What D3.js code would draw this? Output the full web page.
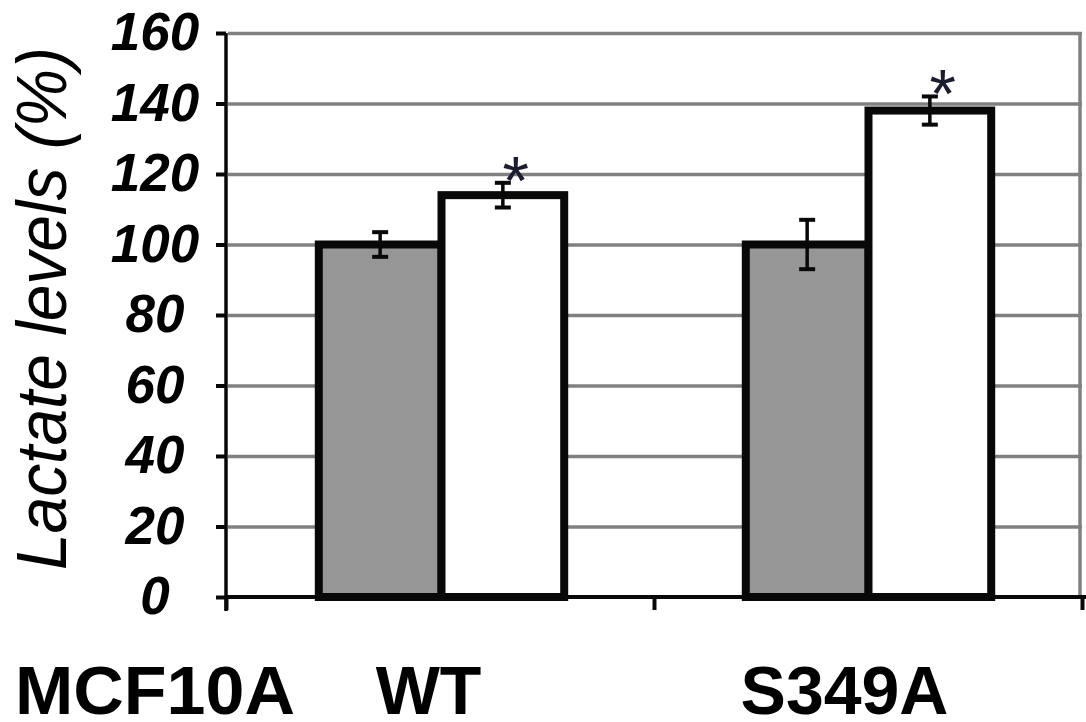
<!DOCTYPE html>
<html><head><meta charset="utf-8">
<script src="https://cdn.jsdelivr.net/npm/d3@7"></script>
<style>html,body{margin:0;padding:0;background:#fff;}svg{display:block;}</style>
</head><body>
<svg id="chart" width="1086" height="722"></svg>
<script>
const categories = ["WT", "S349A"];
const seriesNames = ["control", "treated"];
const controlValues = [100, 100];
const treatedValues = [114, 138];
const controlErrors = [3.5, 7];
const treatedErrors = [3.5, 4];
const treatedSignificant = [true, true];
const yTicks = [0, 20, 40, 60, 80, 100, 120, 140, 160];
const rowLabel = "MCF10A";
const yTitle = "Lactate levels (%)";

const svg = d3.select("#chart");
const plotLeft = 228, plotRight = 1082, plotTop = 33, plotBottom = 597;

const y = d3.scaleLinear().domain([0, 160]).range([plotBottom, plotTop]);
const x0 = d3.scaleBand().domain(categories).range([plotLeft, plotRight]).paddingInner(0).paddingOuter(0);
const x1 = d3.scaleBand().domain(seriesNames).range([0, x0.bandwidth()]).paddingInner(0).paddingOuter(0.74);

const data = categories.map((c, i) => ({
  cat: c,
  bars: [
    {s: "control", v: controlValues[i], e: controlErrors[i], sig: false},
    {s: "treated", v: treatedValues[i], e: treatedErrors[i], sig: treatedSignificant[i]}
  ]
}));

// gridlines
const grid = svg.append("g").attr("transform", `translate(${plotLeft},0)`)
  .call(d3.axisLeft(y).tickValues(yTicks.filter(t => t > 0)).tickSize(-(plotRight - plotLeft)).tickFormat(""));
grid.select(".domain").remove();
grid.selectAll("line").attr("stroke", "#808080").attr("stroke-width", 3.5);

// right border
svg.append("line").attr("x1", plotRight - 2).attr("x2", plotRight - 2).attr("y1", y(160)).attr("y2", y(0))
  .attr("stroke", "#808080").attr("stroke-width", 3.5);

// bars
const groups = svg.selectAll("g.grp").data(data).enter().append("g").attr("class", "grp")
  .attr("transform", d => `translate(${x0(d.cat)},0)`);
groups.selectAll("rect").data(d => d.bars).enter().append("rect")
  .attr("x", d => x1(d.s)).attr("width", x1.bandwidth())
  .attr("y", d => y(d.v)).attr("height", d => y(0) - y(d.v))
  .attr("fill", d => d.s === "control" ? "#969696" : "#ffffff")
  .attr("stroke", "#080808").attr("stroke-width", 8);

// error bars
const eb = groups.selectAll("g.eb").data(d => d.bars).enter().append("g").attr("class", "eb");
eb.append("line")
  .attr("x1", d => x1(d.s) + x1.bandwidth() / 2).attr("x2", d => x1(d.s) + x1.bandwidth() / 2)
  .attr("y1", d => y(d.v + d.e)).attr("y2", d => y(d.v - d.e))
  .attr("stroke", "#080808").attr("stroke-width", 3.5);
eb.selectAll("line.cap").data(d => [{d, val: d.v + d.e}, {d, val: d.v - d.e}]).enter().append("line")
  .attr("class", "cap")
  .attr("x1", c => x1(c.d.s) + x1.bandwidth() / 2 - 8).attr("x2", c => x1(c.d.s) + x1.bandwidth() / 2 + 8)
  .attr("y1", c => y(c.val)).attr("y2", c => y(c.val))
  .attr("stroke", "#080808").attr("stroke-width", 4);

// asterisks
groups.selectAll("text.star").data(d => d.bars.filter(b => b.sig)).enter().append("text")
  .attr("class", "star")
  .attr("x", d => x1(d.s) + x1.bandwidth() / 2 + 13)
  .attr("y", d => y(d.v + d.e) + 21)
  .attr("text-anchor", "middle")
  .attr("font-family", "Liberation Sans, Arial, sans-serif")
  .attr("font-size", 68)
  .attr("fill", "#1c1c30")
  .text("*");

// y axis
const yAxis = svg.append("g").attr("transform", `translate(${plotLeft - 2},0)`)
  .call(d3.axisLeft(y).tickValues(yTicks).tickSize(10).tickPadding(0));
yAxis.select(".domain").attr("stroke", "#080808").attr("stroke-width", 3.5)
  .attr("d", `M0,${y(160)}V${y(0) + 14}`);
yAxis.selectAll(".tick line").attr("stroke", "#080808").attr("stroke-width", 4);
yAxis.selectAll(".tick text")
  .attr("x", -(plotLeft - 2 - 155)).attr("dy", "0.32em")
  .attr("text-anchor", "middle")
  .attr("font-family", "Liberation Sans, Arial, sans-serif")
  .attr("font-size", 53).attr("font-weight", "bold").attr("font-style", "italic")
  .attr("fill", "#000");

// x axis
const xl = d3.scaleLinear().domain([0, categories.length]).range([plotLeft - 2, plotRight]);
const xAxis = svg.append("g").attr("transform", `translate(0,${y(0)})`)
  .call(d3.axisBottom(xl).tickValues(d3.range(categories.length + 1)).tickSize(13).tickFormat(""));
xAxis.select(".domain").attr("stroke", "#080808").attr("stroke-width", 4).attr("d", `M${plotLeft - 2},0H${plotRight + 4}`);
xAxis.selectAll(".tick line").attr("stroke", "#080808").attr("stroke-width", 4);

// bottom labels
const labelFamily = "Liberation Sans, Arial, sans-serif";
svg.append("text").attr("x", 15).attr("y", 714)
  .attr("font-family", labelFamily).attr("font-size", 68).attr("font-weight", "bold")
  .attr("textLength", 280).attr("lengthAdjust", "spacingAndGlyphs")
  .attr("fill", "#000").text(rowLabel);
const labelShift = [-13, -24];
svg.selectAll("text.cat").data(categories).enter().append("text").attr("class", "cat")
  .attr("x", (d, i) => x0(d) + x0.bandwidth() / 2 + labelShift[i]).attr("y", 714)
  .attr("text-anchor", "middle")
  .attr("font-family", labelFamily).attr("font-size", 68).attr("font-weight", "bold")
  .attr("fill", "#000").text(d => d);

// y title
svg.append("text")
  .attr("transform", `translate(66,${(47 + 570) / 2}) rotate(-90)`)
  .attr("text-anchor", "middle")
  .attr("font-family", "Liberation Sans, Arial, sans-serif")
  .attr("font-size", 70).attr("font-style", "italic")
  .attr("textLength", 523).attr("lengthAdjust", "spacingAndGlyphs")
  .attr("fill", "#000").text(yTitle);
</script>
</body></html>
